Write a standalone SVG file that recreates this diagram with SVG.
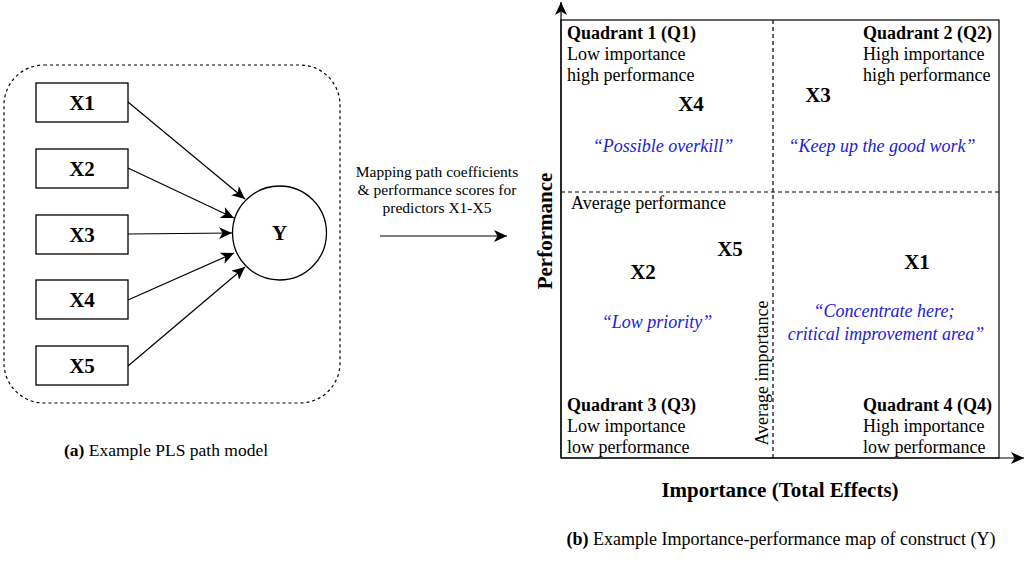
<svg xmlns="http://www.w3.org/2000/svg" width="1026" height="574" viewBox="0 0 1026 574">
<style>
text{font-family:"Liberation Serif","Times New Roman",serif;fill:#000}
.b{font-weight:bold}
.node{fill:#fff;stroke:#000;stroke-width:1.3}
.lbl{font-size:21px;font-weight:bold;text-anchor:middle}
.q{font-size:18px}
.blue{fill:#2020e0;font-style:italic;font-size:18px;text-anchor:middle}
.edge{stroke:#000;stroke-width:1.2;fill:none}
.dash{stroke:#000;stroke-width:1.2;stroke-dasharray:4 3;fill:none}
</style>
<defs>
<marker id="ah" markerUnits="userSpaceOnUse" markerWidth="14" markerHeight="12" refX="13" refY="6" orient="auto">
<path d="M0,0 L13,6 L0,12 L3.5,6 z" fill="#000"/>
</marker>
</defs>

<!-- Left panel -->
<rect id="frame" x="4" y="65" width="336" height="338" rx="40" ry="40" fill="none" stroke="#000" stroke-width="1.2" stroke-dasharray="3 3"/>

<g id="connectors">
<line class="edge" x1="128" y1="102" x2="245" y2="199" marker-end="url(#ah)"/>
<line class="edge" x1="128" y1="168" x2="234" y2="218" marker-end="url(#ah)"/>
<line class="edge" x1="128" y1="234" x2="232" y2="233" marker-end="url(#ah)"/>
<line class="edge" x1="128" y1="300" x2="234" y2="253" marker-end="url(#ah)"/>
<line class="edge" x1="128" y1="366" x2="245" y2="267" marker-end="url(#ah)"/>
<line class="edge" x1="380" y1="236" x2="507" y2="236" marker-end="url(#ah)"/>
</g>

<g id="X1n"><rect class="node" x="36" y="83" width="92" height="39"/><text class="lbl" x="82" y="110">X1</text></g>
<g id="X2n"><rect class="node" x="36" y="149" width="92" height="39"/><text class="lbl" x="82" y="176">X2</text></g>
<g id="X3n"><rect class="node" x="36" y="215" width="92" height="39"/><text class="lbl" x="82" y="242">X3</text></g>
<g id="X4n"><rect class="node" x="36" y="280" width="92" height="39"/><text class="lbl" x="82" y="307">X4</text></g>
<g id="X5n"><rect class="node" x="36" y="346" width="92" height="39"/><text class="lbl" x="82" y="373">X5</text></g>
<g id="Yn"><circle class="node" cx="279.5" cy="233" r="47"/><text class="lbl" x="279.5" y="240">Y</text></g>

<text x="166" y="456" font-size="17.5" text-anchor="middle"><tspan class="b">(a)</tspan> Example PLS path model</text>

<g id="mapping" font-size="15.5">
<text x="437" y="177" text-anchor="middle">Mapping path coefficients</text>
<text x="437" y="195" text-anchor="middle">&amp; performance scores for</text>
<text x="437" y="213" text-anchor="middle">predictors X1-X5</text>
</g>

<!-- Right panel: IPMA -->
<g id="ipma">
<rect x="561" y="20" width="438" height="438" fill="none" stroke="#000" stroke-width="1.2"/>
<line class="dash" x1="773" y1="20" x2="773" y2="458"/>
<line class="dash" x1="561" y1="192" x2="999" y2="192"/>
<line class="edge" x1="561" y1="458" x2="561" y2="2" marker-end="url(#ah)"/>
<line class="edge" x1="561" y1="458" x2="1024" y2="458" marker-end="url(#ah)"/>

<text class="q b" x="567" y="39">Quadrant 1 (Q1)</text>
<text class="q" x="567" y="60">Low importance</text>
<text class="q" x="567" y="81">high performance</text>

<text class="q b" x="863" y="39">Quadrant 2 (Q2)</text>
<text class="q" x="863" y="60">High importance</text>
<text class="q" x="863" y="81">high performance</text>

<text class="q b" x="567" y="411">Quadrant 3 (Q3)</text>
<text class="q" x="567" y="432">Low importance</text>
<text class="q" x="567" y="453">low performance</text>

<text class="q b" x="863" y="411">Quadrant 4 (Q4)</text>
<text class="q" x="863" y="432">High importance</text>
<text class="q" x="863" y="453">low performance</text>

<text class="q" x="571" y="209">Average performance</text>
<text class="q" transform="translate(768,373) rotate(-90)" text-anchor="middle">Average importance</text>

<text class="lbl" x="691" y="111">X4</text>
<text class="lbl" x="818" y="102">X3</text>
<text class="lbl" x="730" y="256">X5</text>
<text class="lbl" x="643" y="279">X2</text>
<text class="lbl" x="917" y="269">X1</text>

<text class="blue" x="663" y="152">“Possible overkill”</text>
<text class="blue" x="882" y="152">“Keep up the good work”</text>
<text class="blue" x="657" y="328">“Low priority”</text>
<text class="blue" x="884" y="317">“Concentrate here;</text>
<text class="blue" x="886" y="340">critical improvement area”</text>

<text class="b" font-size="21" transform="translate(552,231) rotate(-90)" text-anchor="middle">Performance</text>
<text class="b" font-size="21" x="780" y="497" text-anchor="middle">Importance (Total Effects)</text>
<text x="781" y="545" font-size="18" text-anchor="middle"><tspan class="b">(b)</tspan> Example Importance-performance map of construct (Y)</text>
</g>
</svg>
